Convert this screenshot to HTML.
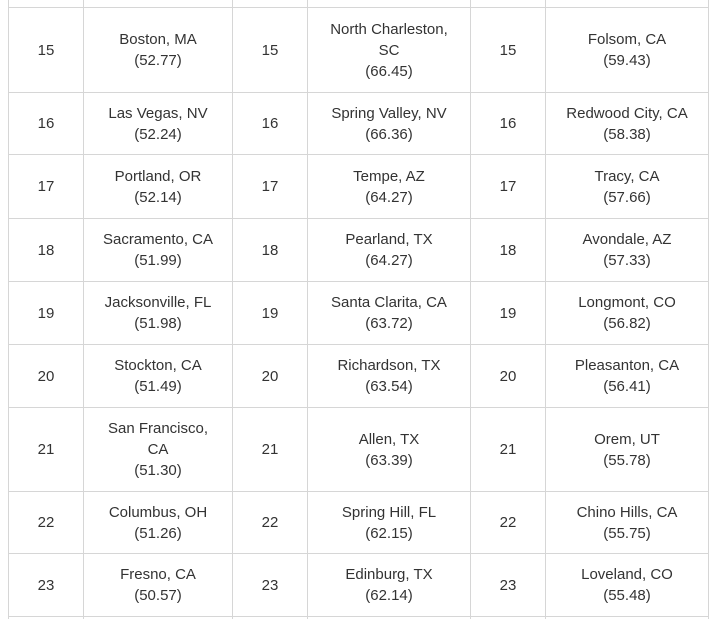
<!DOCTYPE html>
<html><head><meta charset="utf-8"><style>
body{margin:0;width:718px;height:619px;background:#fff;overflow:hidden;position:relative;font-family:"Liberation Sans",sans-serif;color:#333;font-size:15px;}
.v{position:absolute;top:0;width:1px;height:619px;background:#d6d6d6}
.h{position:absolute;left:8px;width:701px;height:1px;background:#d6d6d6}
.c{position:absolute;display:flex;align-items:center;justify-content:center;text-align:center;line-height:21px}
</style></head><body>
<div class="v" style="left:8px"></div><div class="v" style="left:83px"></div><div class="v" style="left:232px"></div><div class="v" style="left:307px"></div><div class="v" style="left:470px"></div><div class="v" style="left:545px"></div><div class="v" style="left:708px"></div>
<div id="g"></div>
<script>
var rows=[7,92,154,218,281,344,407,491,553,616];
var cols=[8,83,232,307,470,545,708];
var d=[
["15","Boston, MA<br>(52.77)","15","North Charleston,<br>SC<br>(66.45)","15","Folsom, CA<br>(59.43)"],
["16","Las Vegas, NV<br>(52.24)","16","Spring Valley, NV<br>(66.36)","16","Redwood City, CA<br>(58.38)"],
["17","Portland, OR<br>(52.14)","17","Tempe, AZ<br>(64.27)","17","Tracy, CA<br>(57.66)"],
["18","Sacramento, CA<br>(51.99)","18","Pearland, TX<br>(64.27)","18","Avondale, AZ<br>(57.33)"],
["19","Jacksonville, FL<br>(51.98)","19","Santa Clarita, CA<br>(63.72)","19","Longmont, CO<br>(56.82)"],
["20","Stockton, CA<br>(51.49)","20","Richardson, TX<br>(63.54)","20","Pleasanton, CA<br>(56.41)"],
["21","San Francisco,<br>CA<br>(51.30)","21","Allen, TX<br>(63.39)","21","Orem, UT<br>(55.78)"],
["22","Columbus, OH<br>(51.26)","22","Spring Hill, FL<br>(62.15)","22","Chino Hills, CA<br>(55.75)"],
["23","Fresno, CA<br>(50.57)","23","Edinburg, TX<br>(62.14)","23","Loveland, CO<br>(55.48)"]];
var h="";
rows.forEach(function(y){h+='<div class="h" style="top:'+y+'px"></div>';});
for(var r=0;r<9;r++)for(var c=0;c<6;c++){
h+='<div class="c" style="left:'+(cols[c]+1)+'px;width:'+(cols[c+1]-cols[c]-1)+'px;top:'+(rows[r]+1)+'px;height:'+(rows[r+1]-rows[r]-1)+'px">'+d[r][c]+'</div>';}
document.getElementById("g").innerHTML=h;
</script>
</body></html>
